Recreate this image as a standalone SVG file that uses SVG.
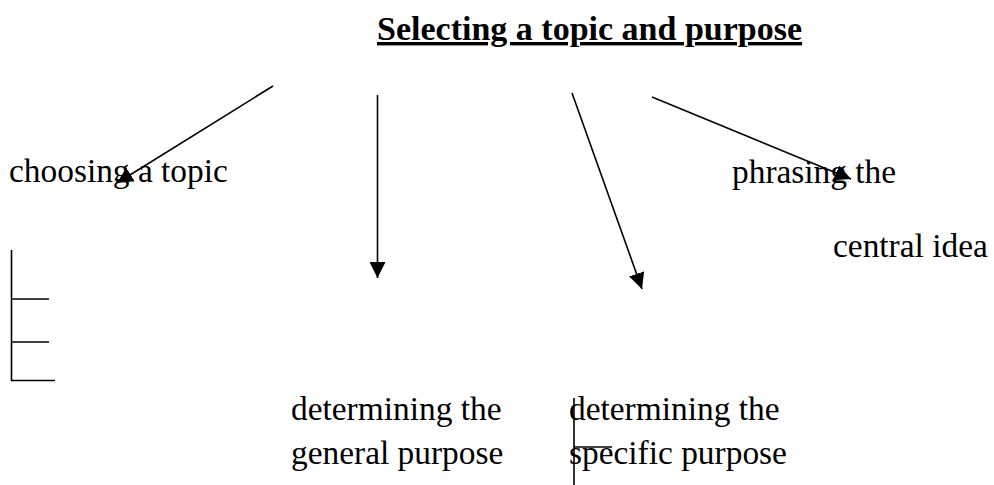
<svg xmlns="http://www.w3.org/2000/svg" width="994" height="485" viewBox="0 0 994 485">
<style>
text { font-family: "Liberation Serif", "Times New Roman", serif; font-size: 33.4px; fill: #000; }
.title { font-weight: bold; font-size: 34px; text-decoration: underline; }
.conn line, .conn path { stroke: #000; stroke-width: 1.6; fill: none; }
.arrow { marker-end: url(#ah); }
</style>
<defs>
<marker id="ah" markerUnits="userSpaceOnUse" markerWidth="18" markerHeight="16" refX="16" refY="8" orient="auto">
<path d="M0,0 L16,8 L0,16 Z" fill="#000"/>
</marker>
</defs>
<rect width="994" height="485" fill="#fff"/>
<g id="title"><text class="title" x="377" y="40">Selecting a topic and purpose</text></g>
<g id="choosing"><text x="9" y="182">choosing a topic</text></g>
<g id="phrasing"><text x="732" y="183">phrasing the</text><text x="833" y="257">central idea</text></g>
<g id="general"><text x="291" y="420">determining the</text><text x="291" y="464">general purpose</text></g>
<g id="specific"><text x="569" y="420">determining the</text><text x="569" y="464">specific purpose</text></g>
<g id="connectors" class="conn">
<line class="arrow" x1="273" y1="86" x2="117" y2="183"/>
<line class="arrow" x1="377.5" y1="95" x2="377.5" y2="278"/>
<line class="arrow" x1="572" y1="93" x2="642" y2="289"/>
<line class="arrow" x1="652" y1="97" x2="851" y2="179"/>
<path d="M11.5,250 V380.5 H55 M11.5,299 H49 M11.5,342 H49"/>
<path d="M574,398 V485 M574,447 H612"/>
</g>
</svg>
